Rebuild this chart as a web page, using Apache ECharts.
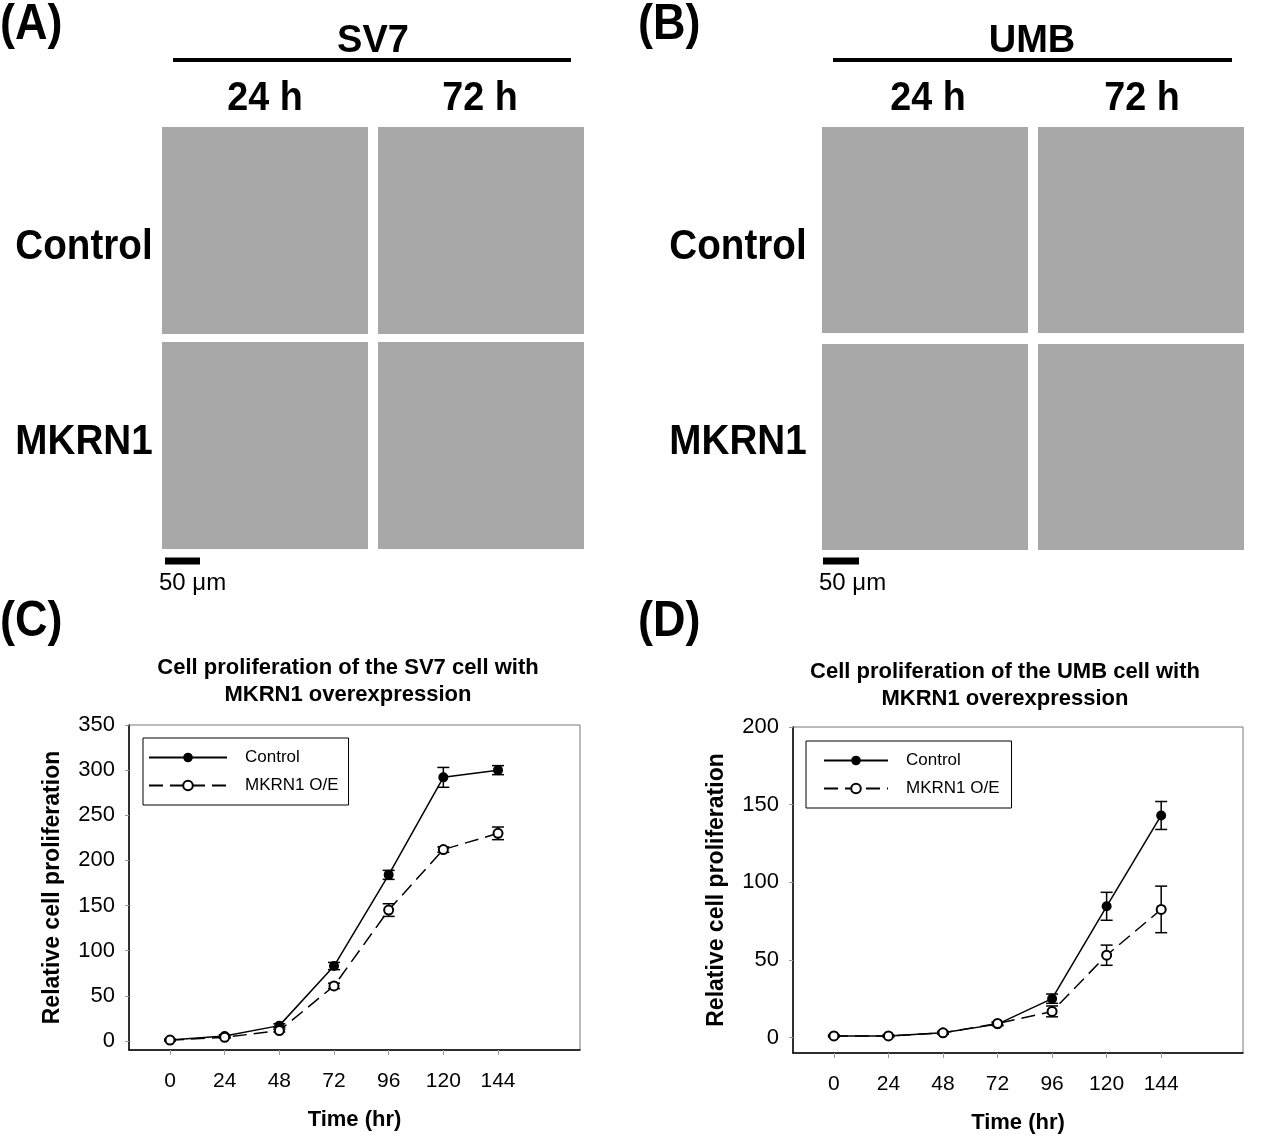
<!DOCTYPE html>
<html>
<head>
<meta charset="utf-8">
<title>MKRN1 proliferation</title>
<script src="https://cdn.jsdelivr.net/npm/echarts@6/dist/echarts.min.js"></script>
<style>
  html, body { margin: 0; padding: 0; background: #fff; }
  #main { width: 1270px; height: 1137px; }
</style>
</head>
<body>
<div id="main"></div>
<script type="text/javascript">
// time points (hr)
var hours = [0, 24, 48, 72, 96, 120, 144];
var hourTicks = [0, 24, 48, 72, 96, 120, 144];

// (C) SV7 cells
var sv7Control = [1, 5.5, 17, 83, 184, 292, 300];
var sv7ControlErr = [1, 1.5, 2, 4, 5, 11, 5];
var sv7Mkrn1 = [1, 4, 11.5, 61, 145, 212, 230];
var sv7Mkrn1Err = [0.5, 1, 1.5, 3, 7, 3, 7];
var sv7Ticks = [0, 50, 100, 150, 200, 250, 300, 350];

// (D) UMB cells
var umbControl = [1, 1, 3, 8.6, 25, 84.5, 143];
var umbControlErr = [0.5, 0.5, 0.8, 1, 3, 9, 9];
var umbMkrn1 = [1, 1, 3, 9, 16.8, 53, 82.5];
var umbMkrn1Err = [0.5, 0.5, 0.8, 1, 3.5, 6.5, 15];
var umbTicks = [0, 50, 100, 150, 200];

var seriesNames = ['Control', 'MKRN1 O/E'];

var FONT = '"Liberation Sans", Arial, sans-serif';

function pairs(xs, ys) {
    return xs.map(function (x, i) { return [x, ys[i]]; });
}
function triples(xs, ys, es) {
    return xs.map(function (x, i) { return [x, ys[i], es[i]]; });
}

// error bars with caps
function errorBar(params, api) {
    var x = api.value(0), y = api.value(1), e = api.value(2);
    var hi = api.coord([x, y + e]);
    var lo = api.coord([x, y - e]);
    var hw = 6;
    var st = { stroke: '#000', lineWidth: 1.5 };
    return {
        type: 'group',
        children: [
            { type: 'line', shape: { x1: hi[0], y1: hi[1], x2: lo[0], y2: lo[1] }, style: st },
            { type: 'line', shape: { x1: hi[0] - hw, y1: hi[1], x2: hi[0] + hw, y2: hi[1] }, style: st },
            { type: 'line', shape: { x1: lo[0] - hw, y1: lo[1], x2: lo[0] + hw, y2: lo[1] }, style: st }
        ]
    };
}

function xAxisOf(idx) {
    return {
        type: 'value', gridIndex: idx, min: -18, max: 180,
        name: 'Time (hr)', nameLocation: 'middle', nameGap: 59,
        nameTextStyle: { fontFamily: FONT, fontSize: 22, fontWeight: 'bold', color: '#000' },
        axisLine: { onZero: false, lineStyle: { color: '#000', width: 1.5 } },
        axisTick: { customValues: hourTicks, length: 5, lineStyle: { color: '#999' } },
        axisLabel: { customValues: hourTicks, margin: 21, fontFamily: FONT, fontSize: 21, color: '#000' },
        splitLine: { show: false }
    };
}
function yAxisOf(idx, max, ticks) {
    return {
        type: 'value', gridIndex: idx, min: -10, max: max,
        name: 'Relative cell proliferation', nameLocation: 'middle', nameGap: 65,
        nameTextStyle: { fontFamily: FONT, fontSize: 23, fontWeight: 'bold', color: '#000' },
        axisLine: { show: true, onZero: false, lineStyle: { color: '#000', width: 1.5 } },
        axisTick: { show: true, customValues: ticks, length: 4, lineStyle: { color: '#999' } },
        axisLabel: { customValues: ticks, margin: 14, fontFamily: FONT, fontSize: 22, color: '#000' },
        splitLine: { show: false }
    };
}
function lineSeries(idx, name, data, open) {
    return {
        name: name, type: 'line', xAxisIndex: idx, yAxisIndex: idx,
        data: data, symbol: 'circle', symbolSize: open ? 9 : 10, z: 3,
        lineStyle: { color: '#000', width: 1.5, type: open ? [14, 7] : 'solid' },
        itemStyle: open ? { color: '#fff', borderColor: '#000', borderWidth: 2 } : { color: '#000' }
    };
}
function errSeries(idx, data) {
    return {
        type: 'custom', xAxisIndex: idx, yAxisIndex: idx, z: 2,
        renderItem: errorBar, data: data, encode: { x: 0, y: 1 }, silent: true
    };
}
function legendOf(left, top, itemWidth, padding) {
    return {
        data: seriesNames, orient: 'vertical', left: left, top: top,
        itemWidth: itemWidth, itemHeight: 12, itemGap: 11, padding: padding,
        borderColor: '#000', borderWidth: 1, selectedMode: false,
        textStyle: { fontFamily: FONT, fontSize: 17, color: '#000', padding: [0, 0, 0, 13] }
    };
}

// ----- figure annotations for the photo panels -----
var panelFill = '#a8a8a8';
function photo(x, y, w, h) {
    return { type: 'rect', shape: { x: x, y: y, width: w, height: h }, style: { fill: panelFill } };
}
function txt(x, y, s, size, bold, align, sx) {
    return {
        type: 'text', x: x, y: y, scaleX: sx || 1,
        style: {
            text: s, fill: '#000', font: (bold ? 'bold ' : '') + size + 'px ' + FONT,
            textAlign: align || 'center', textVerticalAlign: 'middle'
        }
    };
}
function bar(x1, x2, y, w) {
    return { type: 'line', shape: { x1: x1, y1: y, x2: x2, y2: y }, style: { stroke: '#000', lineWidth: w } };
}

var graphics = [
    txt(0, 25, '(A)', 50, true, 'left', 0.9),
    txt(638, 25, '(B)', 50, true, 'left', 0.9),
    txt(0, 622, '(C)', 50, true, 'left', 0.9),
    txt(638, 622, '(D)', 50, true, 'left', 0.9),

    txt(373, 42, 'SV7', 38, true), bar(173, 571, 60, 4),
    txt(1032, 42, 'UMB', 38, true), bar(833, 1232, 60, 4),
    txt(265, 99, '24 h', 41, true, 'center', 0.92), txt(480, 99, '72 h', 41, true, 'center', 0.92),
    txt(928, 99, '24 h', 41, true, 'center', 0.92), txt(1142, 99, '72 h', 41, true, 'center', 0.92),
    txt(84, 247, 'Control', 42, true, 'center', 0.92), txt(84, 442, 'MKRN1', 42, true, 'center', 0.92),
    txt(738, 247, 'Control', 42, true, 'center', 0.92), txt(738, 442, 'MKRN1', 42, true, 'center', 0.92),

    photo(162, 127, 206, 207), photo(378, 127, 206, 207),
    photo(162, 342, 206, 207), photo(378, 342, 206, 207),
    photo(822, 127, 206, 206), photo(1038, 127, 206, 206),
    photo(822, 344, 206, 206), photo(1038, 344, 206, 206),

    bar(165, 200, 561, 7), txt(159, 583, '50 \u03bcm', 24, false, 'left'),
    bar(823, 859, 561, 7), txt(819, 583, '50 \u03bcm', 24, false, 'left'),

    txt(348, 668, 'Cell proliferation of the SV7 cell with', 22, true),
    txt(348, 695, 'MKRN1 overexpression', 22, true),
    txt(1005, 672, 'Cell proliferation of the UMB cell with', 22, true),
    txt(1005, 699, 'MKRN1 overexpression', 22, true)
];

var myChart = echarts.init(document.getElementById('main'));
var option = {
    backgroundColor: '#fff',
    animation: false,
    textStyle: { fontFamily: FONT },
    graphic: graphics,
    grid: [
        { left: 129, top: 725, width: 451, height: 325, show: true, borderColor: '#777', borderWidth: 1 },
        { left: 793, top: 727, width: 450, height: 326, show: true, borderColor: '#777', borderWidth: 1 }
    ],
    xAxis: [xAxisOf(0), xAxisOf(1)],
    yAxis: [yAxisOf(0, 350, sv7Ticks), yAxisOf(1, 200, umbTicks)],
    legend: [
        legendOf(143, 738, 78, [11, 10, 11, 5]),
        legendOf(806, 741, 64, [11, 12, 11, 17])
    ],
    series: [
        errSeries(0, triples(hours, sv7Control, sv7ControlErr)),
        errSeries(0, triples(hours, sv7Mkrn1, sv7Mkrn1Err)),
        lineSeries(0, 'Control', pairs(hours, sv7Control), false),
        lineSeries(0, 'MKRN1 O/E', pairs(hours, sv7Mkrn1), true),
        errSeries(1, triples(hours, umbControl, umbControlErr)),
        errSeries(1, triples(hours, umbMkrn1, umbMkrn1Err)),
        lineSeries(1, 'Control', pairs(hours, umbControl), false),
        lineSeries(1, 'MKRN1 O/E', pairs(hours, umbMkrn1), true)
    ]
};
myChart.setOption(option);
</script>
</body>
</html>
